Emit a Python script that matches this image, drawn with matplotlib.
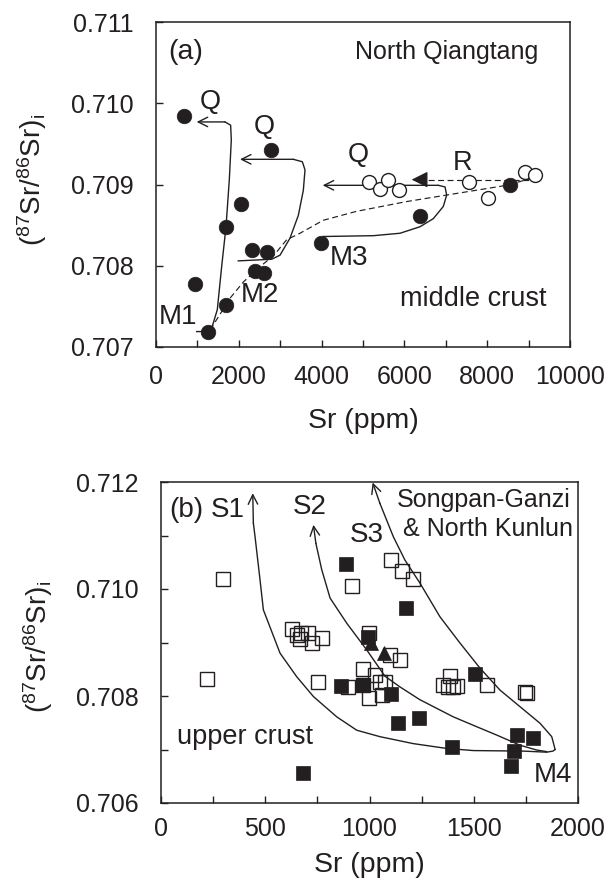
import matplotlib
matplotlib.use("Agg")
import matplotlib.pyplot as plt
from matplotlib.ticker import MultipleLocator, FormatStrFormatter

plt.rcParams['font.family'] = ['Liberation Sans', 'DejaVu Sans']
plt.rcParams['mathtext.fontset'] = 'custom'
plt.rcParams['mathtext.rm'] = 'Liberation Sans'
plt.rcParams['mathtext.it'] = 'Liberation Sans:italic'

INK = '#231f20'

# ---------------- Panel (a): North Qiangtang ----------------
a_fill_sr = [684, 2778, 2053, 1691, 2327, 2673, 2391, 2609, 942, 1683, 1264, 3986, 6377, 8551]
a_fill_ratio = [0.70984, 0.70943, 0.70876, 0.70848, 0.70819, 0.70817, 0.70793, 0.70791,
                0.70778, 0.70752, 0.70719, 0.70828, 0.70861, 0.70900]
a_open_sr = [5153, 5411, 5612, 5870, 7568, 8011, 8913, 9155]
a_open_ratio = [0.70903, 0.70895, 0.70906, 0.70893, 0.70903, 0.70884, 0.70916, 0.70912]

# solid paths M -> Q (last pair is the arrow tip)
q1_sr = [982, 1183, 1345, 1481, 1586, 1691, 1771, 1819, 1803, 1667, 982]
q1_ratio = [0.70719, 0.70719, 0.70723, 0.70746, 0.70799, 0.70848, 0.70906, 0.70955, 0.70973, 0.70977, 0.70977]
q2_sr = [1988, 2794, 2995, 3237, 3438, 3559, 3599, 3535, 3317, 2029]
q2_ratio = [0.70806, 0.70808, 0.70813, 0.70834, 0.70862, 0.70893, 0.70918, 0.70928, 0.70931, 0.70931]
q3_sr = [4042, 5250, 5894, 6377, 6699, 6940, 7021, 6981, 6819, 4026]
q3_ratio = [0.70836, 0.70837, 0.70840, 0.70848, 0.70858, 0.70873, 0.70887, 0.70897, 0.70899, 0.70899]
# dashed mixing curve
mix_sr = [1304, 1506, 1787, 2110, 2512, 2834, 3156, 3478, 4042, 4847, 6055, 7262, 8470, 9235]
mix_ratio = [0.70721, 0.70737, 0.70760, 0.70780, 0.70799, 0.70812, 0.70832, 0.70840, 0.70856,
             0.70867, 0.70879, 0.70889, 0.70899, 0.70910]
# dashed R path (last pair is the arrow tip)
r_sr = [9235, 6417, 6176]
r_ratio = [0.70906, 0.70906, 0.70906]

# ---------------- Panel (b): Songpan-Ganzi & North Kunlun ----------------
b_open_sr = [299, 222, 914, 1103, 1154, 1210, 627, 651, 670, 707, 667, 723, 771, 755, 999, 1098,
             1146, 967, 1026, 1074, 967, 898, 999, 1058, 1050, 1386, 1354, 1378, 1402, 1418,
             1562, 1746, 1754]
b_open_ratio = [0.71018, 0.70831, 0.71006, 0.71054, 0.71034, 0.71018, 0.70925, 0.70914, 0.70917,
                0.70917, 0.70906, 0.70900, 0.70908, 0.70827, 0.70917, 0.70877, 0.70867, 0.70850,
                0.70839, 0.70827, 0.70821, 0.70816, 0.70796, 0.70802, 0.70827, 0.70837, 0.70821,
                0.70817, 0.70816, 0.70819, 0.70821, 0.70808, 0.70805]
b_fill_sr = [887, 1175, 995, 863, 967, 1103, 1138, 1239, 1394, 1506, 1706, 1783, 1693, 1679, 680]
b_fill_ratio = [0.71046, 0.70964, 0.70910, 0.70819, 0.70821, 0.70804, 0.70749, 0.70758, 0.70705,
                0.70841, 0.70727, 0.70721, 0.70698, 0.70670, 0.70656]
b_tri_sr = [1006, 1070]
b_tri_ratio = [0.70899, 0.70880]

# S curves: first pair is the arrow tip
s1_sr = [440, 443, 451, 475, 491, 571, 651, 731, 843, 939, 1050, 1210, 1370, 1498, 1738, 1850, 1880, 1890]
s1_ratio = [0.71179, 0.71123, 0.71098, 0.71017, 0.70961, 0.70880, 0.70836, 0.70799, 0.70761,
            0.70736, 0.70724, 0.70711, 0.70702, 0.70698, 0.70697, 0.70695, 0.70697, 0.70700]
s2_sr = [731, 743, 771, 811, 891, 987, 1074, 1146, 1242, 1402, 1530, 1610, 1722, 1802, 1850]
s2_ratio = [0.71120, 0.71085, 0.71036, 0.70983, 0.70936, 0.70886, 0.70837, 0.70817, 0.70793,
            0.70761, 0.70740, 0.70727, 0.70708, 0.70699, 0.70696]
s3_sr = [1015, 1050, 1114, 1170, 1242, 1338, 1434, 1530, 1626, 1722, 1818, 1874, 1885, 1890]
s3_ratio = [0.71199, 0.71160, 0.71098, 0.71054, 0.71011, 0.70948, 0.70899, 0.70852, 0.70811,
            0.70780, 0.70749, 0.70724, 0.70708, 0.70700]

fig = plt.figure(figsize=(6.10, 8.86), dpi=100)
ax1 = fig.add_axes([156/610, 1-347/886, (570-156)/610, (347-22)/886])
ax2 = fig.add_axes([161/610, 1-803/886, (578-161)/610, (803-482)/886])

LW = 1.0


def arrow(ax, tip, tail, style='->', ms=17, ls='-'):
    ax.annotate('', xy=tip, xytext=tail,
                arrowprops=dict(arrowstyle=style, lw=LW, color=INK, shrinkA=0, shrinkB=0,
                                mutation_scale=ms, linestyle=ls))


# ---- panel a drawing
ax1.plot(mix_sr, mix_ratio, ls=(0, (5, 3)), color=INK, lw=0.85, zorder=2)
ax1.plot(r_sr[:-1], r_ratio[:-1], ls=(0, (5, 3)), color=INK, lw=0.85, zorder=2)
ax1.annotate('', xy=(r_sr[-1], r_ratio[-1]), xytext=(r_sr[-2], r_ratio[-2]),
             arrowprops=dict(arrowstyle='-|>,head_length=0.5,head_width=0.25', lw=0.85,
                             color=INK, shrinkA=0, shrinkB=0, mutation_scale=20))
for xs, ys in [(q1_sr, q1_ratio), (q2_sr, q2_ratio), (q3_sr, q3_ratio)]:
    ax1.plot(xs[:-1], ys[:-1], color=INK, lw=LW, zorder=2)
    arrow(ax1, (xs[-1], ys[-1]), (xs[-2], ys[-2]))

ax1.plot(a_open_sr, a_open_ratio, 'o', ms=10, mfc='white', mec=INK, mew=1.0, zorder=3)
ax1.plot(a_fill_sr, a_fill_ratio, 'o', ms=10.5, mfc=INK, mec=INK, mew=0.5, zorder=4)

ax1.set_xlim(0, 10000)
ax1.set_ylim(0.707, 0.711)
ax1.xaxis.set_major_locator(MultipleLocator(2000))
ax1.xaxis.set_minor_locator(MultipleLocator(1000))
ax1.yaxis.set_major_locator(MultipleLocator(0.001))
ax1.yaxis.set_major_formatter(FormatStrFormatter('%.3f'))

ax1.text(290, 0.71063, '(a)', fontsize=20.5, va='center', ha='left', color=INK)
ax1.text(9230, 0.71063, 'North Qiangtang', fontsize=18, va='center', ha='right', color=INK)
ax1.text(1304, 0.71002, 'Q', fontsize=19.5, va='center', ha='center', color=INK)
ax1.text(2609, 0.70971, 'Q', fontsize=19.5, va='center', ha='center', color=INK)
ax1.text(4887, 0.70936, 'Q', fontsize=19.5, va='center', ha='center', color=INK)
ax1.text(7408, 0.70926, 'R', fontsize=19.5, va='center', ha='center', color=INK)
ax1.text(539, 0.70737, 'M1', fontsize=20, va='center', ha='center', color=INK)
ax1.text(2512, 0.70764, 'M2', fontsize=20, va='center', ha='center', color=INK)
ax1.text(4670, 0.70809, 'M3', fontsize=20, va='center', ha='center', color=INK)
ax1.text(7665, 0.70759, 'middle crust', fontsize=19.5, va='center', ha='center', color=INK)

# ---- panel b drawing
for xs, ys in [(s1_sr, s1_ratio), (s2_sr, s2_ratio), (s3_sr, s3_ratio)]:
    ax2.plot(xs[1:], ys[1:], color=INK, lw=LW, zorder=2)
    arrow(ax2, (xs[0], ys[0]), (xs[1], ys[1]))

ax2.plot(b_fill_sr, b_fill_ratio, 's', ms=10, mfc=INK, mec=INK, mew=0.5, zorder=3)
ax2.plot(b_open_sr, b_open_ratio, 's', ms=10, mfc='none', mec=INK, mew=1.0, zorder=4)
ax2.plot(b_tri_sr, b_tri_ratio, '^', ms=10, mfc=INK, mec=INK, mew=0.5, zorder=5)

ax2.set_xlim(0, 2000)
ax2.set_ylim(0.706, 0.712)
ax2.xaxis.set_major_locator(MultipleLocator(500))
ax2.xaxis.set_minor_locator(MultipleLocator(250))
ax2.yaxis.set_major_locator(MultipleLocator(0.002))
ax2.yaxis.set_minor_locator(MultipleLocator(0.001))
ax2.yaxis.set_major_formatter(FormatStrFormatter('%.3f'))

ax2.text(38, 0.71148, '(b)', fontsize=20, va='center', ha='left', color=INK)
ax2.text(318, 0.71148, 'S1', fontsize=20, va='center', ha='center', color=INK)
ax2.text(715, 0.71154, 'S2', fontsize=20, va='center', ha='center', color=INK)
ax2.text(987, 0.71101, 'S3', fontsize=20, va='center', ha='center', color=INK)
ax2.text(1966, 0.71166, 'Songpan-Ganzi', fontsize=18, va='center', ha='right', color=INK)
ax2.text(1978, 0.71113, '& North Kunlun', fontsize=18, va='center', ha='right', color=INK)
ax2.text(75, 0.70724, 'upper crust', fontsize=19.5, va='center', ha='left', color=INK)
ax2.text(1882, 0.70652, 'M4', fontsize=20, va='center', ha='center', color=INK)

for ax, xpad in [(ax1, 13), (ax2, 10)]:
    for s in ax.spines.values():
        s.set_linewidth(1.1)
        s.set_color(INK)
    ax.tick_params(which='both', direction='in', length=5, width=1.0, color=INK,
                   top=False, right=False, labelsize=18, labelcolor=INK)
    ax.tick_params(axis='y', pad=16)
    ax.tick_params(axis='x', pad=xpad)
    ax.set_xlabel('Sr (ppm)', fontsize=20.5, color=INK)

ax1.xaxis.labelpad = 14
ax2.xaxis.labelpad = 8

ylab = r'$(^{87}\mathrm{Sr}/^{86}\mathrm{Sr})_{\mathrm{i}}$'
fig.text(32/610, 1-180/886, ylab, rotation=90, ha='center', va='center', fontsize=20, color=INK)
fig.text(38/610, 1-647/886, ylab, rotation=90, ha='center', va='center', fontsize=20, color=INK)

fig.savefig('out.png', dpi=100)
